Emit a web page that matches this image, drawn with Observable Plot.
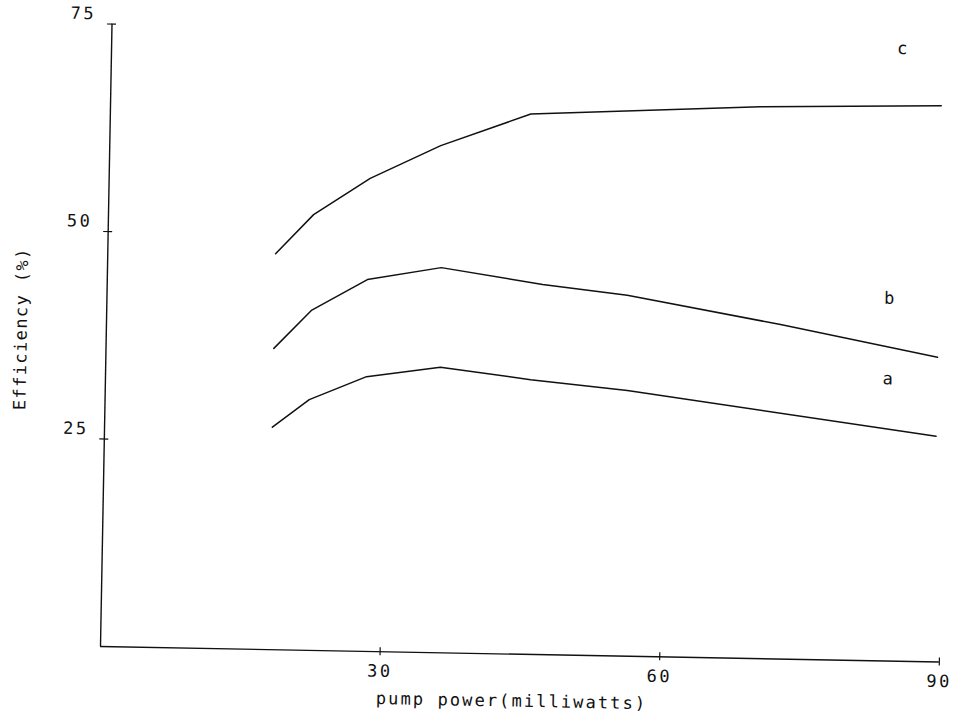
<!DOCTYPE html>
<html>
<head>
<meta charset="utf-8">
<script src="https://cdn.jsdelivr.net/npm/d3@7"></script>
<script src="https://cdn.jsdelivr.net/npm/@observablehq/plot@0.6"></script>
<style>
  html, body { margin: 0; padding: 0; background: #fff; }
  #chart svg { display: block; transform: rotate(1.06deg); transform-origin: 100px 646px; }
  #chart svg g[aria-label="x-axis tick label"] text,
  #chart svg g[aria-label="y-axis tick label"] text { letter-spacing: 2.5px; }
</style>
</head>
<body>
<div id="chart"></div>
<script>
// pump power (milliwatts) and efficiency (%) for the three curves
const powerA = [18, 21.9, 28, 35.9, 45.6, 56, 89.2];
const effA   = [26.8, 30.2, 33.1, 34.4, 33.1, 32.0, 27.2];
const powerB = [18, 22, 27.9, 35.8, 46.7, 55.8, 72.3, 89.2];
const effB   = [36.3, 41.0, 44.8, 46.4, 44.6, 43.5, 40.3, 36.7];
const powerC = [18, 22, 28, 35.5, 45.1, 69.7, 89.1];
const effC   = [47.7, 52.5, 57.0, 61.1, 65.1, 66.5, 67.0];

const curveNames = ["a", "b", "c"];
const labelPower = [83.9, 83.9, 84.8];
const labelEff   = [34.0, 43.7, 73.8];

const xTicks = [30, 60, 90];
const yTicks = [25, 50, 75];
const xLabel = "pump power(milliwatts)";
const yLabel = "Efficiency (%)";

const rows = [];
[[powerA, effA, "a"], [powerB, effB, "b"], [powerC, effC, "c"]].forEach(([xs, ys, k]) => {
  xs.forEach((x, i) => rows.push({power: x, eff: ys[i], curve: k}));
});
const labels = curveNames.map((k, i) => ({name: k, power: labelPower[i], eff: labelEff[i]}));

const font = "'DejaVu Sans Mono', monospace";

const chart = Plot.plot({
  width: 956,
  height: 717,
  marginLeft: 100,
  marginRight: 17,
  marginTop: 23.5,
  marginBottom: 71,
  style: {fontFamily: font, fontSize: "17px", color: "#111", background: "#fff"},
  x: {domain: [0, 90]},
  y: {domain: [0, 75]},
  marks: [
    Plot.ruleY([0], {stroke: "#111", strokeWidth: 1.4}),
    Plot.ruleX([0], {stroke: "#111", strokeWidth: 1.4}),
    // cross ticks
    Plot.axisX({ticks: xTicks, tickSize: 8, dy: -4, tickFormat: () => "", label: null, stroke: "#111", strokeWidth: 1.2}),
    Plot.axisY({ticks: yTicks, tickSize: 9, dx: 4.5, tickFormat: () => "", label: null, stroke: "#111", strokeWidth: 1.2}),
    // tick labels
    Plot.axisX({ticks: xTicks, tickSize: 0, tickPadding: 13, label: null, fill: "#111", fontSize: 17}),
    Plot.axisY({ticks: yTicks, tickSize: 0, tickPadding: 16, dy: -10, label: null, fill: "#111", fontSize: 17}),
    // curves
    Plot.line(rows, {x: "power", y: "eff", z: "curve", stroke: "#111", strokeWidth: 1.5}),
    Plot.text(labels, {x: "power", y: "eff", text: "name", fill: "#111", fontSize: 17}),
    // axis titles
    Plot.text([xLabel], {frameAnchor: "bottom", textAnchor: "middle", lineAnchor: "middle",
      dx: -7.5, dy: 47, fill: "#111", fontSize: 17}),
    Plot.text([yLabel], {frameAnchor: "left", textAnchor: "middle", lineAnchor: "middle", rotate: -90,
      dx: -85, dy: -5, fill: "#111", fontSize: 17})
  ]
});
d3.select(chart).selectAll("text")
  .filter(function() { return this.textContent === xLabel; })
  .style("letter-spacing", "2.1px");
d3.select(chart).selectAll("text")
  .filter(function() { return this.textContent === yLabel; })
  .style("letter-spacing", "1.4px");
document.getElementById("chart").appendChild(chart);
</script>
</body>
</html>
